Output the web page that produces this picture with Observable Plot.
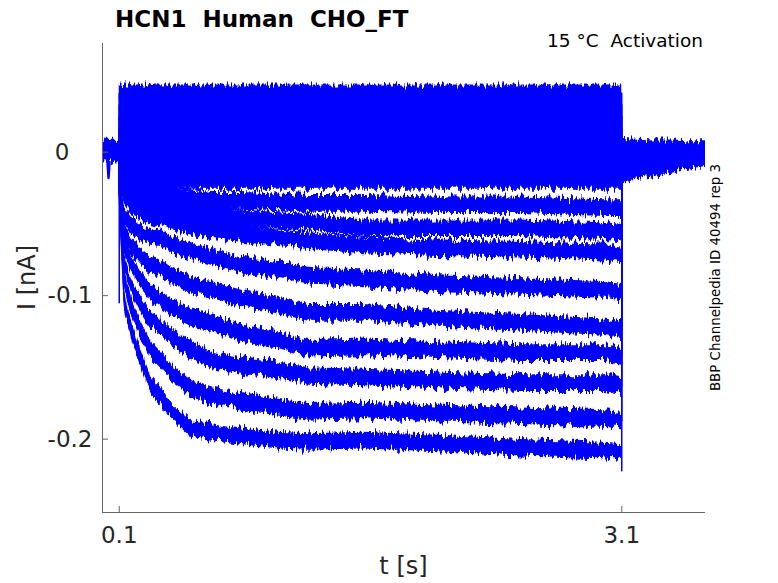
<!DOCTYPE html>
<html>
<head>
<meta charset="utf-8">
<script src="https://cdn.jsdelivr.net/npm/d3@7"></script>
<script src="https://cdn.jsdelivr.net/npm/@observablehq/plot@0.6"></script>
<style>
  body { margin: 0; background: #fff; }
  svg text { white-space: pre; }
</style>
</head>
<body>
<div id="chart"></div>
<script>
// ---- data ----
const times = [0.1, 0.13, 0.17, 0.23, 0.29, 0.35, 0.41, 0.53, 0.65, 0.83, 1.05, 1.23, 1.56, 2.0, 2.5, 3.0, 3.1];
const traceA = [-0.016, -0.020, -0.023, -0.027, -0.028, -0.029, -0.031, -0.032, -0.034, -0.034, -0.035, -0.036, -0.036, -0.037, -0.037, -0.039, -0.039];
const traceB = [-0.017, -0.025, -0.030, -0.034, -0.037, -0.039, -0.041, -0.042, -0.044, -0.046, -0.048, -0.049, -0.053, -0.053, -0.053, -0.055, -0.056];
const traceC = [-0.018, -0.030, -0.037, -0.041, -0.044, -0.046, -0.049, -0.052, -0.055, -0.057, -0.060, -0.062, -0.065, -0.067, -0.068, -0.070, -0.072];
const traceD = [-0.020, -0.044, -0.051, -0.056, -0.059, -0.060, -0.064, -0.069, -0.073, -0.079, -0.082, -0.086, -0.088, -0.092, -0.094, -0.096, -0.098];
const traceE = [-0.022, -0.055, -0.065, -0.073, -0.079, -0.081, -0.086, -0.093, -0.096, -0.102, -0.107, -0.112, -0.112, -0.116, -0.119, -0.122, -0.124];
const traceF = [-0.023, -0.065, -0.077, -0.089, -0.098, -0.103, -0.108, -0.115, -0.119, -0.126, -0.131, -0.137, -0.136, -0.138, -0.140, -0.140, -0.142];
const traceG = [-0.025, -0.077, -0.093, -0.107, -0.117, -0.122, -0.129, -0.138, -0.145, -0.149, -0.152, -0.156, -0.157, -0.159, -0.161, -0.161, -0.163];
const traceH = [-0.027, -0.089, -0.107, -0.124, -0.138, -0.145, -0.154, -0.165, -0.170, -0.174, -0.178, -0.181, -0.180, -0.182, -0.184, -0.186, -0.187];
const traceI = [-0.030, -0.104, -0.122, -0.144, -0.163, -0.170, -0.180, -0.193, -0.195, -0.198, -0.201, -0.202, -0.201, -0.203, -0.206, -0.208, -0.209];
const spikeI = [-0.105, -0.222];           // transient spikes of the largest trace at step on / off
const upperLevels = [0.041, 0.033, 0.025, 0.017, 0.009, 0.001, -0.006, -0.013, -0.020];
const stepT = [0.1, 3.1];
const holdT = [0, 0.1];
const holdHi = [0.009, 0.009];
const holdLo = [-0.0075, -0.0075];
const holdSpikeT = [0.030, 0.036, 0.042];
const holdSpikeV = [-0.007, -0.018, -0.007];
const tailT = [3.1, 3.2, 3.3, 3.4, 3.5, 3.6];
const tailHi = [0.0095, 0.009, 0.0085, 0.0085, 0.008, 0.008];
const tailLo = [-0.022, -0.019, -0.017, -0.014, -0.012, -0.010];
const noiseHalf = 0.0058;                   // half-width of the recording noise band
const xTicks = [0.1, 3.1];
const yTicks = [0, -0.1, -0.2];
const xDomain = [0, 3.6];
const yDomain = [-0.2511, 0.0757];

// ---- build tables ----
const BLUE = "#0000ff", AXIS = "#666666", TEXT = "#262626";
const W = 778, H = 583, ML = 102, MR = 73, MT = 43, MB = 71;
const FW = W - ML - MR, FH = H - MT - MB;

const lower = [traceA, traceB, traceC, traceD, traceE, traceF, traceG, traceH, traceI];
const bandRows = [
  ...upperLevels.flatMap((L, k) => stepT.map(t => ({trace: "U" + k, t, v: L}))),
  ...lower.flatMap((vals, k) => vals.map((v, i) => ({trace: "L" + k, t: times[i], v})))
];
const lineRows = [
  ...upperLevels.flatMap((L, k) => [
    {trace: "U" + k, t: stepT[0], v: 0}, {trace: "U" + k, t: stepT[0], v: L},
    {trace: "U" + k, t: stepT[1], v: L}, {trace: "U" + k, t: stepT[1], v: 0}]),
  ...lower.flatMap((vals, k) => {
    const id = "L" + k;
    const pts = vals.map((v, i) => ({trace: id, t: times[i], v}));
    const last = lower.length - 1;
    const head = [{trace: id, t: stepT[0], v: 0}];
    if (k === last) head.push({trace: id, t: stepT[0], v: spikeI[0]});
    const tail = [];
    if (k === last) tail.push({trace: id, t: stepT[1], v: spikeI[1]});
    tail.push({trace: id, t: stepT[1], v: 0});
    return [...head, ...pts, ...tail];
  })
];
const holdRows = holdT.map((t, i) => ({t, lo: holdLo[i], hi: holdHi[i]}));
const tailRows = tailT.map((t, i) => ({t, lo: tailLo[i], hi: tailHi[i]}));
const holdSpikeRows = holdSpikeT.map((t, i) => ({t, v: holdSpikeV[i]}));

const fmt = d => String(d);

const svg = Plot.plot({
  width: W, height: H,
  marginLeft: ML, marginRight: MR, marginTop: MT, marginBottom: MB,
  x: {domain: xDomain},
  y: {domain: yDomain},
  style: {fontFamily: "DejaVu Sans", background: "#fff", color: TEXT},
  marks: [
    Plot.areaY(holdRows, {x: "t", y1: "lo", y2: "hi", fill: BLUE, className: "noisy"}),
    Plot.areaY(tailRows, {x: "t", y1: "lo", y2: "hi", fill: BLUE, className: "noisy"}),
    Plot.areaY(bandRows, {x: "t", y1: d => d.v - noiseHalf, y2: d => d.v + noiseHalf, z: "trace", fill: BLUE, className: "noisy"}),
    Plot.line(lineRows, {x: "t", y: "v", z: "trace", stroke: BLUE, strokeWidth: 1.5}),
    Plot.line(holdSpikeRows, {x: "t", y: "v", stroke: BLUE, strokeWidth: 2.5}),
    Plot.ruleX([xDomain[0]], {stroke: AXIS}),
    Plot.ruleY([yDomain[0]], {stroke: AXIS}),
    Plot.tickY(yTicks, {y: d => d, insetRight: FW - 6, stroke: AXIS}),
    Plot.tickX(xTicks, {x: d => d, insetTop: FH - 6, stroke: AXIS}),
    Plot.axisX(xTicks, {tickSize: 0, tickPadding: 14, fontSize: 23, tickFormat: fmt, label: null, fill: TEXT}),
    Plot.axisY(yTicks.filter(d => d !== 0), {tickSize: 0, tickPadding: 10, fontSize: 23, tickFormat: fmt, label: null, fill: TEXT}),
    Plot.axisY(yTicks.filter(d => d === 0), {tickSize: 0, tickPadding: 33, fontSize: 23, tickFormat: fmt, label: null, fill: TEXT})
  ]
});

const s = d3.select(svg);
// rendering texture: vertical jitter on the band edges (style only, data untouched)
const f = s.insert("defs", ":first-child").append("filter").attr("id", "jitter")
  .attr("x", "-2%").attr("y", "-10%").attr("width", "104%").attr("height", "120%");
f.append("feTurbulence").attr("type", "fractalNoise").attr("baseFrequency", "0.45 0.06")
  .attr("numOctaves", 2).attr("seed", 3).attr("result", "t");
f.append("feColorMatrix").attr("in", "t").attr("type", "matrix")
  .attr("values", "0 0 0 0 0.5  0 1 0 0 0  0 0 0 0 0  0 0 0 0 1").attr("result", "m");
f.append("feDisplacementMap").attr("in", "SourceGraphic").attr("in2", "m")
  .attr("scale", 14).attr("xChannelSelector", "R").attr("yChannelSelector", "G");
s.selectAll("g.noisy").attr("filter", "url(#jitter)");

s.append("text").attr("x", 115).attr("y", 26.5).attr("text-anchor", "start")
  .attr("font-size", 23).attr("font-weight", "bold").attr("fill", "#000")
  .text("HCN1  Human  CHO_FT");
s.append("text").attr("x", 703).attr("y", 46.5).attr("text-anchor", "end")
  .attr("font-size", 18.5).attr("fill", "#000")
  .text("15 °C  Activation");
s.append("text").attr("transform", "translate(720,277.5) rotate(-90)").attr("text-anchor", "middle")
  .attr("font-size", 13.4).attr("fill", "#000")
  .text("BBP Channelpedia ID 40494 rep 3");
s.append("text").attr("transform", "translate(35,277.5) rotate(-90)").attr("text-anchor", "middle")
  .attr("font-size", 24).attr("fill", TEXT)
  .text("I [nA]");
s.append("text").attr("x", ML + FW / 2).attr("y", 573.5).attr("text-anchor", "middle")
  .attr("font-size", 24).attr("fill", TEXT)
  .text("t [s]");

document.getElementById("chart").appendChild(svg);
</script>
</body>
</html>
